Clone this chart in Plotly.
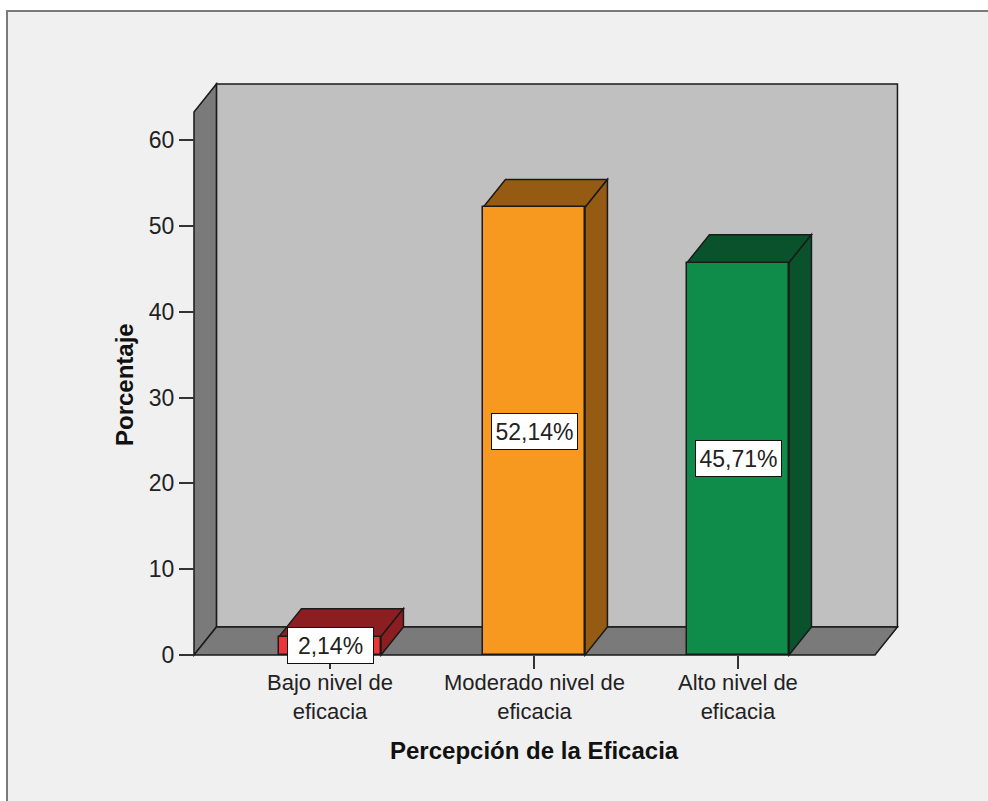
import plotly.graph_objects as go

# Data
categories = ["Bajo nivel de<br>eficacia", "Moderado nivel de<br>eficacia", "Alto nivel de<br>eficacia"]
percentages = [2.14, 52.14, 45.71]
front_colors = ["#ef3439", "#f8991f", "#0f8c4a"]
shade_colors = ["#8c1d21", "#955b12", "#0a522b"]
y_ticks = [0, 10, 20, 30, 40, 50, 60]
x_title = "Percepción de la Eficacia"
y_title = "Porcentaje"

# Page / plot geometry (pixels)
W, H = 988, 801
ML, MR, MT, MB = 180, 80, 74, 136
PW, PH = W - ML - MR, H - MT - MB

# Axis ranges
X_RANGE = [-0.7353, 2.8333]
Y_RANGE = [-1.165, 67.69]

# 3D depth offset in data units and wall extent
DX, DY = 0.11, 3.26
FLOOR_X0, FLOOR_X1 = -0.6667, 2.6716
WALL_TOP = 63.27
BAR_W = 0.5

EDGE = "#1a1a1a"
FONT = "Liberation Sans, Arial, sans-serif"
TEXT = "#222222"


def px_x(px):
    return (px - ML) / PW


def px_y(py):
    return (H - MB - py) / PH


def poly(points):
    return "M " + " L ".join(f"{x},{y}" for x, y in points) + " Z"


shapes = []

# Outer frame of the chart panel
shapes.append(dict(type="rect", xref="paper", yref="paper",
                   x0=px_x(7), x1=px_x(W + 10), y0=px_y(11), y1=px_y(H + 10),
                   fillcolor="#f0f0f0", line=dict(color="#7a7a7a", width=2),
                   layer="below"))

# Back wall
shapes.append(dict(type="path", xref="x", yref="y",
                   path=poly([(FLOOR_X0 + DX, DY), (FLOOR_X1 + DX, DY),
                              (FLOOR_X1 + DX, WALL_TOP + DY), (FLOOR_X0 + DX, WALL_TOP + DY)]),
                   fillcolor="#c0c0c0", line=dict(color=EDGE, width=1.5), layer="below"))
# Left wall
shapes.append(dict(type="path", xref="x", yref="y",
                   path=poly([(FLOOR_X0, 0), (FLOOR_X0, WALL_TOP),
                              (FLOOR_X0 + DX, WALL_TOP + DY), (FLOOR_X0 + DX, DY)]),
                   fillcolor="#7a7a7a", line=dict(color=EDGE, width=1.5), layer="below"))
# Floor
shapes.append(dict(type="path", xref="x", yref="y",
                   path=poly([(FLOOR_X0, 0), (FLOOR_X1, 0),
                              (FLOOR_X1 + DX, DY), (FLOOR_X0 + DX, DY)]),
                   fillcolor="#7a7a7a", line=dict(color=EDGE, width=1.5), layer="below"))

# Top and side faces of each bar
for i, (v, dark) in enumerate(zip(percentages, shade_colors)):
    l, r = i - BAR_W / 2, i + BAR_W / 2
    shapes.append(dict(type="path", xref="x", yref="y",
                       path=poly([(l, v), (r, v), (r + DX, v + DY), (l + DX, v + DY)]),
                       fillcolor=dark, line=dict(color=EDGE, width=1.5), layer="below"))
    shapes.append(dict(type="path", xref="x", yref="y",
                       path=poly([(r, 0), (r + DX, DY), (r + DX, v + DY), (r, v)]),
                       fillcolor=dark, line=dict(color=EDGE, width=1.5), layer="below"))

fig = go.Figure()
fig.add_trace(go.Bar(
    x=list(range(len(categories))), y=percentages, width=BAR_W,
    marker=dict(color=front_colors, line=dict(color=EDGE, width=1.5)),
    hoverinfo="skip", showlegend=False,
))

annotations = []

# Value labels in white boxes at mid-height of each bar
for i, v in enumerate(percentages):
    annotations.append(dict(
        x=i, y=v / 2, xref="x", yref="y",
        text=f"{v:.2f}%".replace(".", ","), showarrow=False,
        xanchor="center", yanchor="middle",
        width=83, height=33,
        font=dict(family=FONT, size=23, color=TEXT),
        bgcolor="white", bordercolor="#111111", borderwidth=1, borderpad=1,
    ))

# Category labels under each bar
for i, label in enumerate(categories):
    annotations.append(dict(
        x=i, y=px_y(697), xref="x", yref="paper", text=label,
        showarrow=False, xanchor="center", yanchor="middle",
        font=dict(family=FONT, size=22, color=TEXT),
    ))

annotations.append(dict(
    x=1, y=px_y(750), xref="x", yref="paper", text=f"<b>{x_title}</b>",
    showarrow=False, xanchor="center", yanchor="middle",
    font=dict(family=FONT, size=24, color="#111111"),
))
annotations.append(dict(
    x=px_x(124), y=px_y(385), xref="paper", yref="paper", text=f"<b>{y_title}</b>",
    showarrow=False, textangle=-90, xanchor="center", yanchor="middle",
    font=dict(family=FONT, size=24, color="#111111"),
))

fig.update_layout(
    width=W, height=H,
    margin=dict(l=ML, r=MR, t=MT, b=MB, pad=0),
    paper_bgcolor="white", plot_bgcolor="rgba(0,0,0,0)",
    shapes=shapes, annotations=annotations,
    bargap=0, showlegend=False,
    xaxis=dict(
        range=X_RANGE, tickvals=list(range(len(categories))), showticklabels=False,
        ticks="outside", ticklen=13, tickwidth=2, tickcolor="#333333",
        showgrid=False, zeroline=False, showline=False,
        anchor="free", position=px_y(655),
    ),
    yaxis=dict(
        range=Y_RANGE, tickvals=y_ticks,
        ticks="outside", ticklen=15, tickwidth=2, tickcolor="#333333",
        showgrid=False, zeroline=False, showline=False,
        anchor="free", position=px_x(194),
        tickfont=dict(family=FONT, size=23, color=TEXT),
    ),
)

fig.write_html("out.html")
